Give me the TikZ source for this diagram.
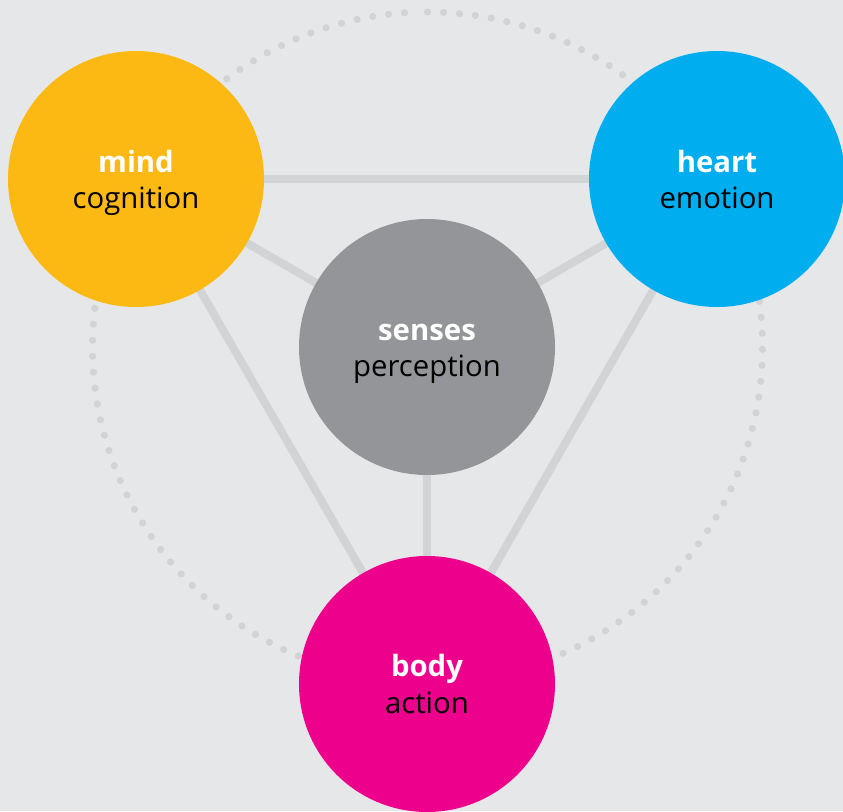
\documentclass[tikz,border=0pt]{standalone}
\usepackage{fontspec}
\setmainfont{Open Sans}
\definecolor{bg}{HTML}{E6E7E8}
\definecolor{link}{HTML}{D1D3D4}
\definecolor{mindc}{HTML}{FDB913}
\definecolor{heartc}{HTML}{00AEEF}
\definecolor{sensec}{HTML}{939598}
\definecolor{bodyc}{HTML}{EC008C}
\tikzset{
  bubble/.style={circle, minimum size=256*0.75pt, inner sep=0pt, draw=none},
  connector/.style={draw=link, line width=6pt},
  title/.style={anchor=base, text=white, font=\fontsize{22}{26}\selectfont\bfseries, inner sep=0pt},
  subtitle/.style={anchor=base, text=black, font=\fontsize{22}{26}\selectfont, inner sep=0pt},
}
\begin{document}
\begin{tikzpicture}[x=0.75pt, y=-0.75pt]
  % canvas
  \fill[bg] (0,0) rectangle (843,811);
  \useasboundingbox (0,0) rectangle (843,811);

  % dotted ring around the centre bubble
  \coordinate (ring) at (427.5,347);
  \foreach \i in {0,...,130}
    \fill[link] (ring) ++({90-\i*2.739}:335 and -335) circle[radius=3.6];

  % centres
  \coordinate (pm) at (136,179);
  \coordinate (ph) at (717,179);
  \coordinate (ps) at (427,347);
  \coordinate (pb) at (427,684);

  % connectors
  \draw[connector] (pm) -- (ph);
  \draw[connector] (pm) -- (ps);
  \draw[connector] (ph) -- (ps);
  \draw[connector] (ps) -- (pb);
  \draw[connector] (pm) -- (pb);
  \draw[connector] (ph) -- (pb);

  % bubbles
  \node[bubble, fill=mindc]  (mind)   at (pm) {};
  \node[bubble, fill=heartc] (heart)  at (ph) {};
  \node[bubble, fill=sensec] (senses) at (ps) {};
  \node[bubble, fill=bodyc]  (body)   at (pb) {};

  % labels
  \node[title]    (mindt)   at ([yshift=7*0.75pt]mind.center)    {mind};
  \node[subtitle] (minds)   at ([yshift=-29*0.75pt]mind.center)  {cognition};
  \node[title]    (heartt)  at ([yshift=7*0.75pt]heart.center)   {heart};
  \node[subtitle] (hearts)  at ([yshift=-29*0.75pt]heart.center) {emotion};
  \node[title]    (sensest) at ([yshift=7*0.75pt]senses.center)  {senses};
  \node[subtitle] (sensess) at ([yshift=-29*0.75pt]senses.center) {perception};
  \node[title]    (bodyt)   at ([yshift=8*0.75pt]body.center)    {body};
  \node[subtitle] (bodys)   at ([yshift=-29*0.75pt]body.center)  {action};
\end{tikzpicture}
\end{document}
